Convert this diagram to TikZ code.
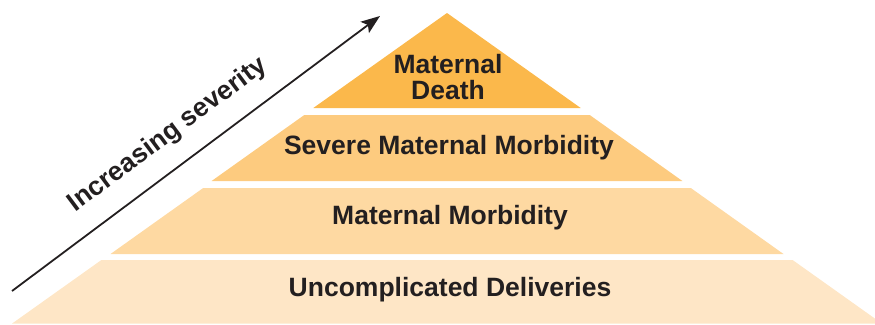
\documentclass[tikz,border=0pt]{standalone}
\usepackage{fontspec}
\setmainfont{Liberation Sans}
\usetikzlibrary{arrows.meta}
\definecolor{cdeath}{HTML}{FBB84B}
\definecolor{csevere}{HTML}{FDCB7F}
\definecolor{cmorb}{HTML}{FED9A2}
\definecolor{cunc}{HTML}{FEE6C6}
\definecolor{ink}{HTML}{231F20}
\tikzset{
  lbl/.style={text=ink,font=\bfseries\fontsize{26.5}{26}\selectfont,align=center,inner sep=0pt},
  sev/.style={->,>={Stealth[length=19pt,width=14pt,inset=4pt]},draw=ink,line width=1.8pt}
}
\begin{document}
\begin{tikzpicture}[x=1pt,y=-1pt]
\useasboundingbox (0,0) rectangle (875,324);
% pyramid layers (apex 447,13; slope 1.405)
\fill[cdeath] (447,13) -- (580.7,108) -- (313.3,108) -- cycle;
\fill[csevere] (304.3,115) -- (589.7,115) -- (682.4,181) -- (211.6,181) -- cycle;
\fill[cmorb] (203.2,188) -- (690.8,188) -- (783.5,254) -- (110.5,254) -- cycle;
\fill[cunc] (101.4,260) -- (792.6,260) -- (882,323.6) -- (12,323.6) -- cycle;
% labels
\node[lbl] (death) at (448,77) {Maternal\\Death};
\node[lbl] (severe) at (449,148) {Severe Maternal Morbidity};
\node[lbl] (morb) at (450,218) {Maternal Morbidity};
\node[lbl] (unc) at (450,290) {Uncomplicated Deliveries};
% arrow
\coordinate (a0) at (12,291);
\coordinate (a1) at (380,16);
\draw[sev] (a0) -- (a1);
\node[lbl,rotate=36.7] (inc) at (168,135) {Increasing severity};
\end{tikzpicture}
\end{document}
